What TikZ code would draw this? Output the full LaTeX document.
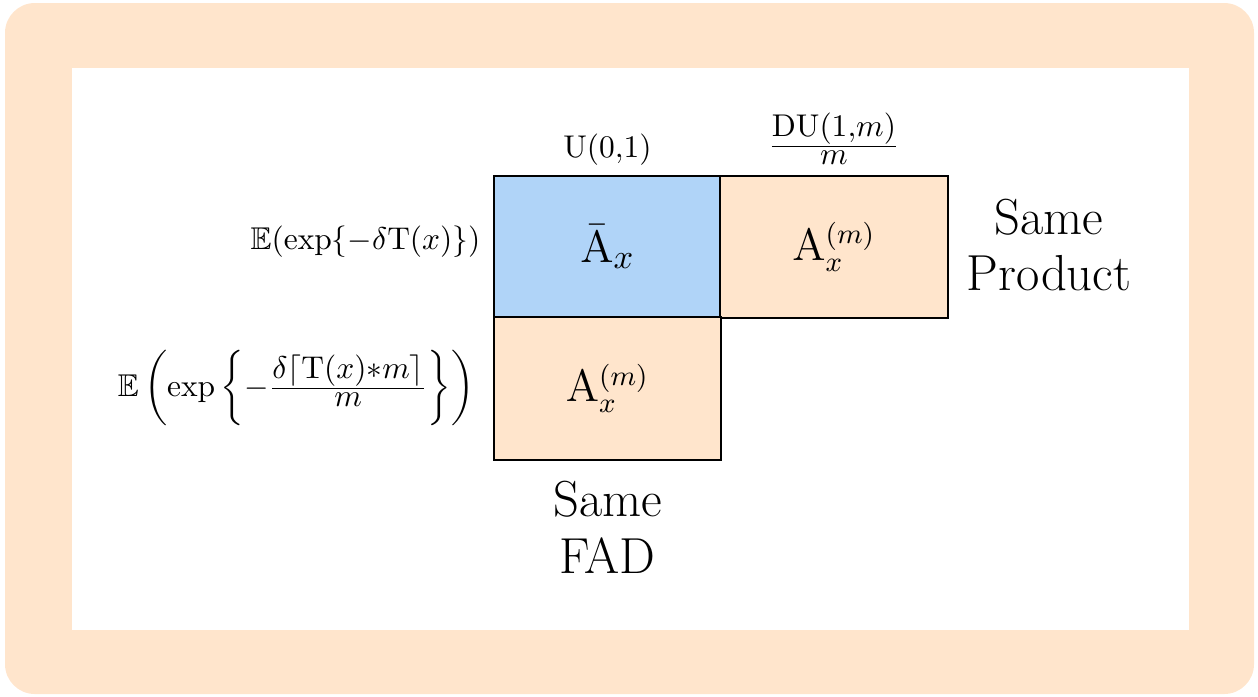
\documentclass[tikz,border=0pt]{standalone}
\usepackage{amsmath,amssymb}
\definecolor{peach}{RGB}{255,229,204}
\definecolor{cellblue}{RGB}{176,212,248}
\tikzset{
  cell/.style={draw=black, line width=0.64pt, inner sep=0pt, minimum width=72.2pt, minimum height=45.2pt},
  biglabel/.style={align=center, font=\fontsize{16.1}{18.1}\selectfont, inner sep=0pt},
  smalllabel/.style={inner sep=0pt}
}
\begin{document}
\begin{tikzpicture}[x=0.318pt,y=-0.318pt]
\useasboundingbox (0,0) rectangle (1258,696);
\fill[peach, rounded corners=9.5pt] (5,3) rectangle (1254,694);
\fill[white] (72,68) rectangle (1189,630);
\node[cell, fill=cellblue, font=\fontsize{15.5}{18}\selectfont] (ab) at (607.5,247) {$\bar{\mathrm{A}}_x$};
\node[cell, fill=peach, font=\fontsize{13.5}{16}\selectfont] (am) at (834,247) {$\mathrm{A}_x^{(m)}$};
\node[cell, fill=peach, font=\fontsize{13.5}{16}\selectfont] (bm) at (607.5,388.5) {$\mathrm{A}_x^{(m)}$};
\node[smalllabel, anchor=base] (u01) at (607.5,157) {$\mathrm{U}(0{,}1)$};
\node[smalllabel, anchor=base] (du) at (834,154) {$\frac{\textstyle\mathrm{DU}(1{,}m)}{\textstyle m}$};
\node[smalllabel, anchor=base east] (e1) at (481,249) {$\mathbb{E}(\exp\{-\delta\mathrm{T}(x)\})$};
\node[smalllabel, anchor=base east] (e2) at (475,396) {$\mathbb{E}\left(\exp\left\{-\frac{\textstyle\delta\lceil\mathrm{T}(x){*}m\rceil}{\textstyle m}\right\}\right)$};
\node[biglabel] (sp) at (1049,245) {Same\\Product};
\node[biglabel] (sf) at (607.5,527) {Same\\FAD};
\end{tikzpicture}
\end{document}
